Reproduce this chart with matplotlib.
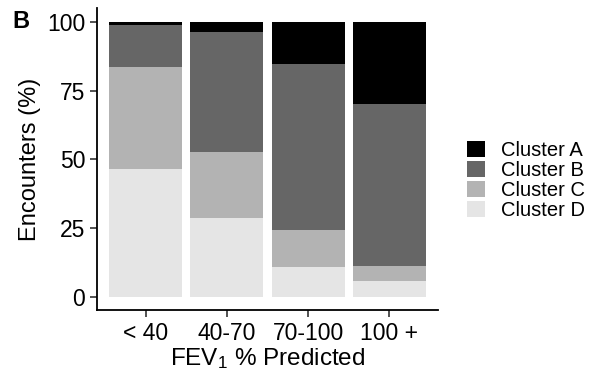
import numpy as np
import matplotlib
matplotlib.use("Agg")
import matplotlib.pyplot as plt
from matplotlib.patches import Patch

plt.rcParams["font.family"] = ["Liberation Sans", "DejaVu Sans"]
plt.rcParams["mathtext.fontset"] = "custom"
plt.rcParams["mathtext.rm"] = "Liberation Sans"
plt.rcParams["mathtext.default"] = "regular"

groups = ["< 40", "40-70", "70-100", "100 +"]
clusters = ["Cluster A", "Cluster B", "Cluster C", "Cluster D"]
# percent of encounters per FEV1 group
cluster_a = [1.0, 3.7, 15.2, 29.8]
cluster_b = [15.5, 43.5, 60.7, 58.9]
cluster_c = [37.1, 24.1, 13.4, 5.5]
cluster_d = [46.4, 28.7, 10.7, 5.8]
colors = ["#000000", "#666666", "#b3b3b3", "#e5e5e5"]

fig = plt.figure(figsize=(5.95, 3.85), dpi=100)
ax = fig.add_axes([0.163, 0.194, 0.573, 0.784])

x = np.arange(1, len(groups) + 1)
bottom = np.zeros(len(groups))
# stack from bottom: D, C, B, A
for vals, col in zip([cluster_d, cluster_c, cluster_b, cluster_a], colors[::-1]):
    ax.bar(x, vals, 0.9, bottom=bottom, color=col, lw=0)
    bottom += np.array(vals)

ax.set_xlim(0.4, 4.6)
ax.set_ylim(-5, 105)
ax.set_yticks([0, 25, 50, 75, 100])
ax.set_xticks(x)
ax.set_xticklabels(groups)
ax.tick_params(labelsize=16.5, length=5, width=1.2, colors="#333333", labelcolor="black")
for s in ["top", "right"]:
    ax.spines[s].set_visible(False)
for s in ["left", "bottom"]:
    ax.spines[s].set_linewidth(1.3)
ax.set_ylabel("Encounters (%)", fontsize=17)
ax.set_xlabel(r"FEV$_1$ % Predicted", fontsize=17.5, labelpad=1)

handles = [Patch(facecolor=c, edgecolor="none") for c in colors]
fig.legend(handles, clusters, loc="center left", bbox_to_anchor=(0.785, 0.532),
           frameon=False, fontsize=14.5, handlelength=0.9, handleheight=0.85,
           handletextpad=0.8, labelspacing=0.05, borderpad=0, borderaxespad=0)

fig.text(0.02, 0.975, "B", fontsize=17, fontweight="bold", va="top")

fig.savefig("out.png", dpi=100)
